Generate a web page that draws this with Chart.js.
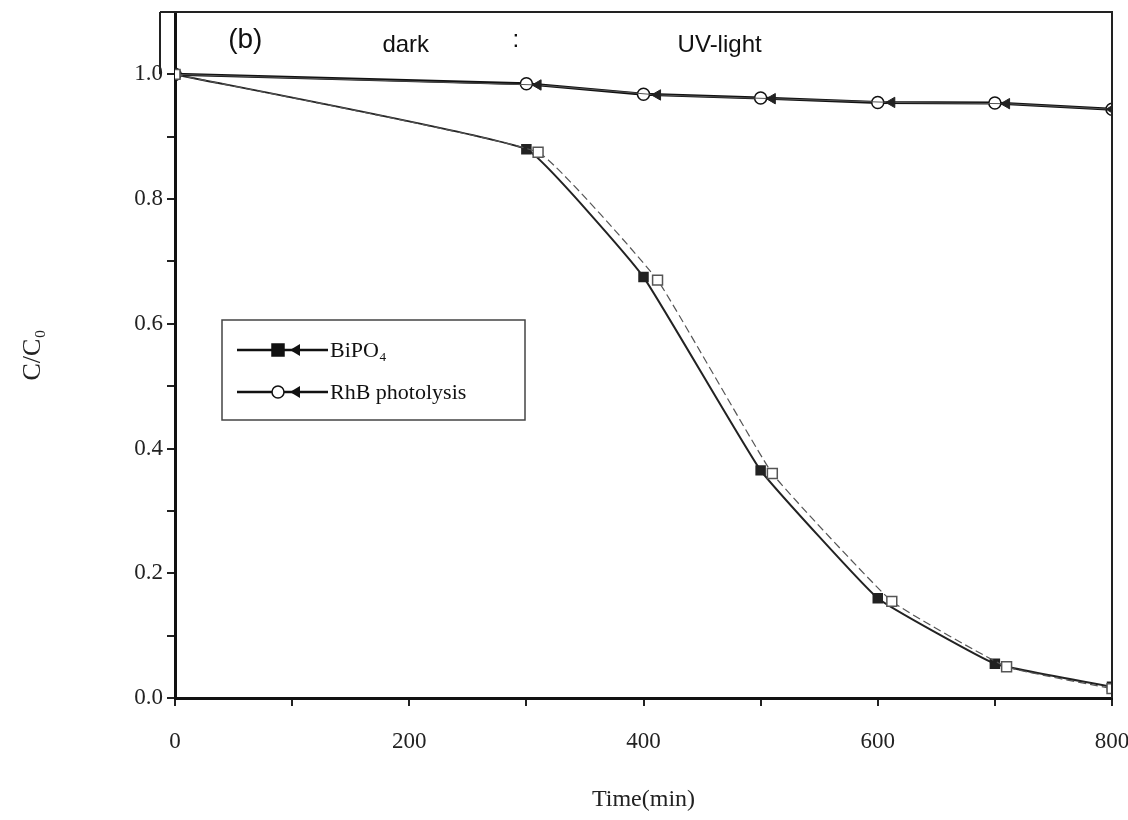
<!DOCTYPE html>
<html>
<head>
<meta charset="utf-8">
<script src="https://cdn.jsdelivr.net/npm/chart.js@4/dist/chart.umd.min.js"></script>
<style>
  html, body { margin: 0; padding: 0; background: #fff; overflow: hidden; }
  canvas { display: block; }
</style>
</head>
<body>
<canvas id="resultChart" width="1128" height="820"></canvas>
<script>
// values
var timeMin = [0, 300, 400, 500, 600, 700, 800];
var bipo4 = [1.0, 0.88, 0.675, 0.365, 0.16, 0.055, 0.018];
var rhbPhotolysis = [1.0, 0.985, 0.968, 0.962, 0.955, 0.954, 0.944];
// the second (ghost) trace in the scan sits a little to the right
var ghostTime = [0, 310, 412, 510, 612, 710, 800];
var bipo4Ghost = [1.0, 0.875, 0.67, 0.36, 0.155, 0.05, 0.015];
var rhbGhost = [1.0, 0.983, 0.967, 0.961, 0.955, 0.953, 0.944];

var xTicks = [0, 200, 400, 600, 800];
var yTicks = ['0.0', '0.2', '0.4', '0.6', '0.8', '1.0'];
var legendLabels = ['BiPO\u2084', 'RhB photolysis'];

function pts(xs, ys) {
    return xs.map(function (x, i) { return { x: x, y: ys[i] }; });
}

var serif = '"Liberation Serif", "DejaVu Serif", serif';
var sans = '"Liberation Sans", Arial, sans-serif';

var extras = {
    id: 'extras',
    afterDraw: function (chart) {
        var c = chart.ctx, a = chart.chartArea;
        var xs = chart.scales.x, ys = chart.scales.y;
        c.save();
        // frame top and right
        c.strokeStyle = '#222';
        c.lineWidth = 2;
        c.beginPath();
        c.moveTo(160, a.top);
        c.lineTo(a.right, a.top);
        c.lineTo(a.right, a.bottom);
        c.stroke();
        c.beginPath();
        c.moveTo(160, a.top);
        c.lineTo(160, ys.getPixelForValue(1.0));
        c.stroke();

        // annotations in the top strip
        c.fillStyle = '#111';
        c.textBaseline = 'middle';
        c.textAlign = 'center';
        c.font = '28px ' + sans;
        c.fillText('(b)', xs.getPixelForValue(60), 40);
        c.font = '24px ' + sans;
        c.fillText('dark', xs.getPixelForValue(197), 45);
        c.fillText(':', xs.getPixelForValue(291), 40);
        c.fillText('UV-light', xs.getPixelForValue(465), 45);

        // legend box
        var lx = 222, ly = 320, lw = 303, lh = 100;
        c.strokeStyle = '#444';
        c.lineWidth = 1.5;
        c.strokeRect(lx, ly, lw, lh);
        c.textAlign = 'left';
        c.font = '22px ' + serif;
        var rows = [350, 392];
        var styles = [
            { fill: '#111', shape: 'rect' },
            { fill: '#fff', shape: 'circle' }
        ];
        rows.forEach(function (ry, i) {
            c.strokeStyle = '#111';
            c.lineWidth = 2.5;
            c.beginPath();
            c.moveTo(237, ry);
            c.lineTo(328, ry);
            c.stroke();
            c.fillStyle = styles[i].fill;
            c.lineWidth = 1.5;
            c.beginPath();
            if (styles[i].shape === 'rect') {
                c.rect(272, ry - 6, 12, 12);
            } else {
                c.arc(278, ry, 6, 0, Math.PI * 2);
            }
            c.fill();
            c.stroke();
            c.fillStyle = '#111';
            c.beginPath();
            c.moveTo(290, ry);
            c.lineTo(300, ry - 6);
            c.lineTo(300, ry + 6);
            c.closePath();
            c.fill();
            c.fillText(legendLabels[i], 330, ry + 1);
        });
        c.restore();
    }
};

var ctx = document.getElementById('resultChart').getContext('2d');
new Chart(ctx, {
    type: 'line',
    data: {
        datasets: [
            {
                label: legendLabels[0] + ' ghost',
                data: pts(ghostTime, bipo4Ghost),
                borderColor: '#555',
                borderWidth: 1.2,
                borderDash: [8, 4],
                pointStyle: 'rect',
                pointRadius: 7,
                pointBackgroundColor: '#fff',
                pointBorderColor: '#555',
                pointBorderWidth: 1.5,
                tension: 0.1
            },
            {
                label: legendLabels[1] + ' ghost',
                data: pts(ghostTime, rhbGhost),
                borderColor: '#555',
                borderWidth: 1,
                pointStyle: 'triangle',
                rotation: -90,
                pointRadius: 6,
                pointBackgroundColor: '#222',
                pointBorderColor: '#222'
            },
            {
                label: legendLabels[0],
                data: pts(timeMin, bipo4),
                borderColor: '#222',
                borderWidth: 2,
                pointStyle: 'rect',
                pointRadius: 6,
                pointBackgroundColor: '#222',
                pointBorderColor: '#222',
                tension: 0.1
            },
            {
                label: legendLabels[1],
                data: pts(timeMin, rhbPhotolysis),
                borderColor: '#111',
                borderWidth: 3,
                pointStyle: 'circle',
                pointRadius: 6,
                pointBackgroundColor: '#fff',
                pointBorderColor: '#111',
                pointBorderWidth: 1.5
            }
        ]
    },
    options: {
        responsive: false,
        animation: false,
        devicePixelRatio: 1,
        layout: { padding: { left: 18, right: 16, top: 12, bottom: 0 } },
        plugins: {
            legend: { display: false },
            tooltip: { enabled: false }
        },
        scales: {
            x: {
                type: 'linear',
                min: 0,
                max: 800,
                afterFit: function (s) {
                    s.height = 122;
                    s.paddingLeft = 0;
                    s.paddingRight = 0;
                },
                afterBuildTicks: function (s) {
                    s.ticks = [];
                    for (var v = 0; v <= 800; v += 100) s.ticks.push({ value: v });
                },
                ticks: {
                    padding: 22,
                    color: '#222',
                    font: { family: serif, size: 23 },
                    maxRotation: 0,
                    autoSkip: false,
                    callback: function (v) { return xTicks.indexOf(v) >= 0 ? String(v) : ''; }
                },
                grid: { drawOnChartArea: false, tickLength: 8, color: '#222', lineWidth: 2 },
                border: { color: '#111', width: 3 },
                title: {
                    display: true,
                    text: 'Time(min)',
                    color: '#222',
                    font: { family: serif, size: 24 },
                    padding: { top: 0, bottom: 6 }
                }
            },
            y: {
                type: 'linear',
                min: 0,
                max: 1.1,
                afterFit: function (s) {
                    s.width = 157;
                    s.paddingTop = 0;
                    s.paddingBottom = 0;
                },
                afterBuildTicks: function (s) {
                    s.ticks = [];
                    for (var k = 0; k <= 11; k++) s.ticks.push({ value: k / 10 });
                },
                ticks: {
                    padding: 4,
                    color: '#222',
                    autoSkip: false,
                    font: { family: serif, size: 23 },
                    callback: function (v) {
                        var t = v.toFixed(1);
                        return yTicks.indexOf(t) >= 0 ? t : '';
                    }
                },
                grid: { drawOnChartArea: false, tickLength: 8, color: '#222', lineWidth: 2 },
                border: { color: '#111', width: 3 },
                title: {
                    display: true,
                    text: 'C/C\u2080',
                    color: '#222',
                    font: { family: serif, size: 26 },
                    padding: { top: 0, bottom: 0 }
                }
            }
        }
    },
    plugins: [extras]
});
</script>
</body>
</html>
